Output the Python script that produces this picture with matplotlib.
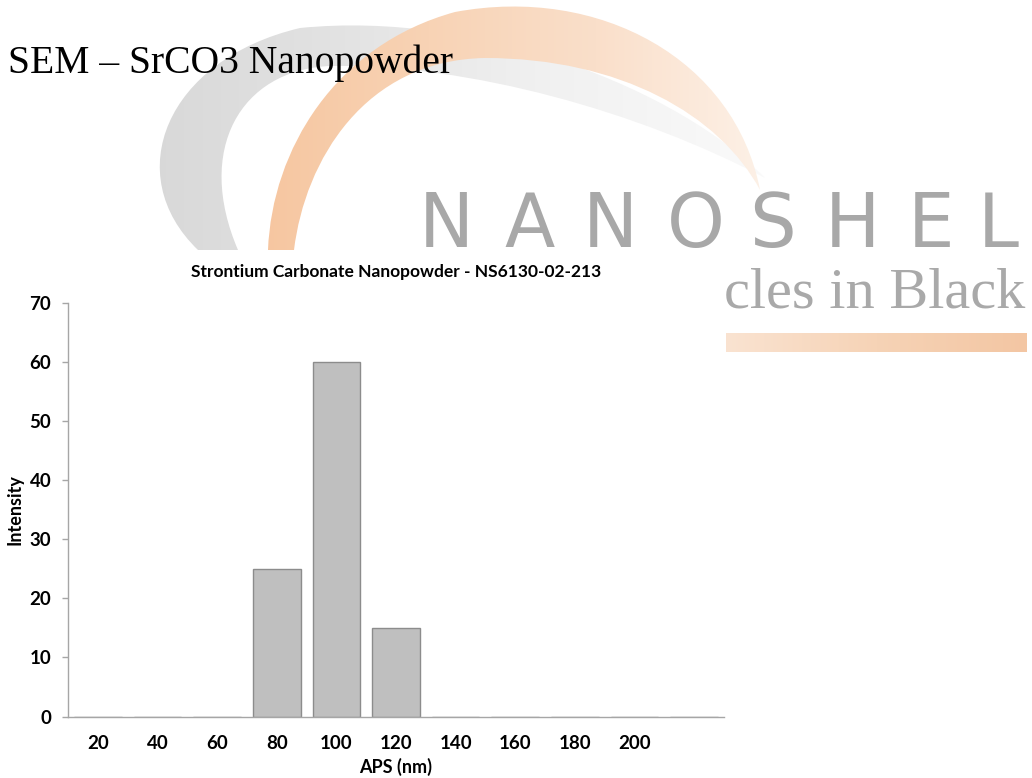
import numpy as np
import matplotlib
matplotlib.use('Agg')
import matplotlib.pyplot as plt
from matplotlib.path import Path
from matplotlib.patches import PathPatch
from matplotlib.colors import LinearSegmentedColormap

# ------------------------------------------------------------
# data
# ------------------------------------------------------------
sizes = ['20', '40', '60', '80', '100', '120', '140', '160', '180', '200', '']
intensity = [0, 0, 0, 25, 60, 15, 0, 0, 0, 0, 0]
y_ticks = [0, 10, 20, 30, 40, 50, 60, 70]

slide_title = 'SEM – SrCO3 Nanopowder'
chart_title = 'Strontium Carbonate Nanopowder - NS6130-02-213'
logo_letters = list('NANOSHEL')
logo_x = [446, 530, 610, 696, 772, 852, 931, 998]   # letter centres (px)
tagline = 'cles in Black'

W, H = 1032, 778
fig = plt.figure(figsize=(W / 100, H / 100), dpi=100)

# background layer in pixel coords (y down) for the slide watermark
bg = fig.add_axes([0, 0, 1, 1], zorder=0)
bg.axis('off')

M, C = Path.MOVETO, Path.CURVE4


def gradient_shape(verts, colors, x0, x1, y0, y1):
    codes = [M] + [C] * (len(verts) - 2) + [Path.CLOSEPOLY]
    patch = PathPatch(Path(verts, codes), fc='none', ec='none')
    bg.add_patch(patch)
    cmap = LinearSegmentedColormap.from_list('g', colors)
    grad = np.linspace(0, 1, 256).reshape(1, -1)
    im = bg.imshow(grad, cmap=cmap, extent=(x0, x1, y1, y0), aspect='auto',
                   interpolation='bicubic')
    im.set_clip_path(patch)
    return im


# gray swoosh
gradient_shape([(198, 250), (120, 175), (165, 60), (300, 28),
                (480, 10), (680, 90), (765, 178),
                (640, 112), (470, 64), (330, 66),
                (240, 70), (195, 150), (238, 250),
                (198, 250)],
               ['#d6d6d6', '#e2e2e2', '#f1f1f1', '#fafafa'], 110, 770, 0, 250)

# orange swoosh
gradient_shape([(268, 250), (272, 150), (335, 45), (455, 12),
                (600, -15), (735, 60), (760, 190),
                (720, 115), (620, 58), (485, 58),
                (365, 60), (305, 160), (294, 250),
                (268, 250)],
               ['#f6c6a0', '#f8d3b5', '#fadfca', '#fdf1e7'], 260, 765, 0, 250)

# orange bar under tagline
bar_cmap = LinearSegmentedColormap.from_list('b', ['#fae3d1', '#f6d3b6', '#f3c6a3'])
bg.imshow(np.linspace(0, 1, 256).reshape(1, -1), cmap=bar_cmap,
          extent=(726, 1027, 352, 333), aspect='auto', interpolation='bicubic')

bg.set_xlim(0, W)
bg.set_ylim(H, 0)

for ch, x in zip(logo_letters, logo_x):
    bg.text(x, 247, ch, fontsize=53, family='DejaVu Sans', color='#a8a8a8',
            ha='center', va='baseline')
bg.text(724, 307, tagline, fontsize=42, family='Liberation Serif',
        color='#a9a9a9', ha='left', va='baseline')
bg.text(8, 73, slide_title, fontsize=28.5, family='Liberation Serif',
        color='black', ha='left', va='baseline', zorder=5)

# ------------------------------------------------------------
# chart
# ------------------------------------------------------------
ax_l, ax_r, ax_t, ax_b = 68, 724, 303, 716.5
ax = fig.add_axes([ax_l / W, 1 - ax_b / H, (ax_r - ax_l) / W, (ax_b - ax_t) / H], zorder=1)
ax.set_facecolor('none')

xpos = np.arange(len(sizes))
ax.bar(xpos, intensity, width=0.8, color='#bfbfbf', edgecolor='#8c8c8c', linewidth=1)
ax.set_xlim(-0.5, len(sizes) - 0.5)
ax.set_ylim(0, 70)
ax.set_yticks(y_ticks)
ax.set_xticks(xpos)
ax.set_xticklabels(sizes)

for s in ['top', 'right']:
    ax.spines[s].set_visible(False)
for s in ['left', 'bottom']:
    ax.spines[s].set_color('#a6a6a6')
    ax.spines[s].set_linewidth(1)

for lab in ax.get_xticklabels() + ax.get_yticklabels():
    lab.set_fontfamily('Lato')
    lab.set_fontweight('bold')
    lab.set_fontsize(13.5)
ax.tick_params(axis='x', length=0, pad=13)
ax.tick_params(axis='y', length=4, width=1, color='#a6a6a6', pad=8)

ax.set_xlabel('APS (nm)', family='Lato', weight='bold', fontsize=13, va='center')
ax.xaxis.set_label_coords(0.5, -(767 - ax_b) / (ax_b - ax_t))
ax.set_ylabel('Intensity', family='Lato', weight='bold', fontsize=13, va='center')
ax.yaxis.set_label_coords((15 - ax_l) / (ax_r - ax_l), 0.5)

ax.text(0.5, (ax_b - 277) / (ax_b - ax_t), chart_title, transform=ax.transAxes,
        ha='center', va='baseline', family='Lato', weight='bold', fontsize=12.5)

fig.savefig('out.png', dpi=100, facecolor='white')
